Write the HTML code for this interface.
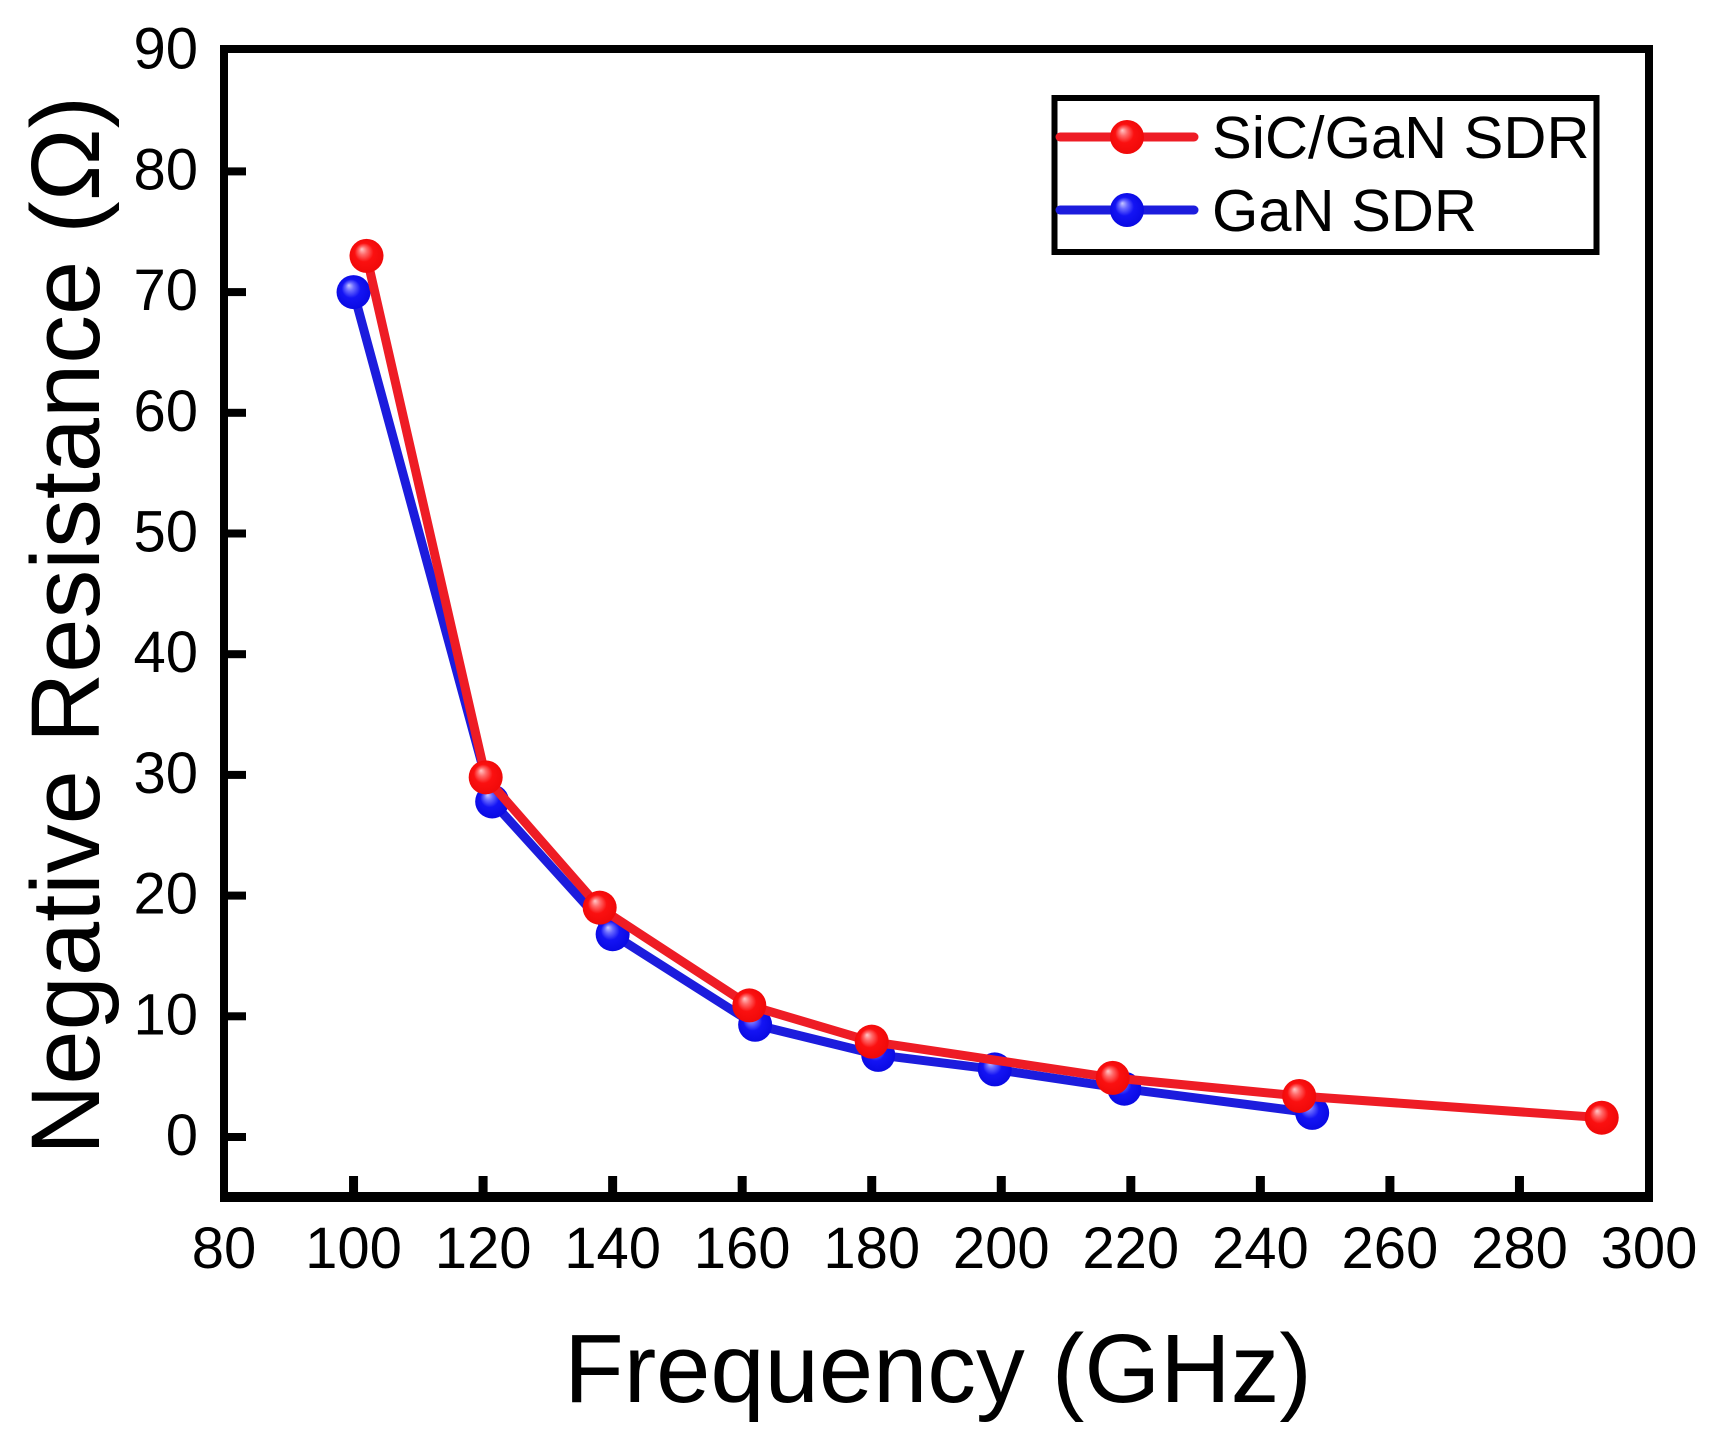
<!DOCTYPE html>
<html>
<head>
<meta charset="utf-8">
<title>Negative Resistance vs Frequency</title>
<style>
  html, body { margin: 0; padding: 0; background: #fff; }
  svg { display: block; }
  text { font-family: "Liberation Sans", Arial, sans-serif; fill: #000; }
</style>
</head>
<body>
<svg id="chart" xmlns="http://www.w3.org/2000/svg" width="1718" height="1449" viewBox="0 0 1718 1449">
  <defs>
    <radialGradient id="red-ball" cx="0.5" cy="0.5" r="0.55" fx="0.36" fy="0.3">
      <stop offset="0" stop-color="#ffc8c8"/>
      <stop offset="0.22" stop-color="#ff6a6a"/>
      <stop offset="0.5" stop-color="#fb1010"/>
      <stop offset="1" stop-color="#ee0808"/>
    </radialGradient>
    <radialGradient id="blue-ball" cx="0.5" cy="0.5" r="0.55" fx="0.36" fy="0.3">
      <stop offset="0" stop-color="#c8c8ff"/>
      <stop offset="0.22" stop-color="#6a6aff"/>
      <stop offset="0.5" stop-color="#1414f4"/>
      <stop offset="1" stop-color="#0808e0"/>
    </radialGradient>
  </defs>
  <rect x="0" y="0" width="1718" height="1449" fill="#fff"/>
  <g id="ticks"></g>
  <g id="series"></g>
  <path d="M224 49H1649V1197H224Z" fill="none" stroke="#000" stroke-width="8" stroke-linejoin="miter"/>
  <rect x="220" y="1192" width="1433" height="10" fill="#000"/>
  <text x="938" y="1402" font-size="97.5" text-anchor="middle">Frequency (GHz)</text>
  <text transform="translate(99 1155) rotate(-90)" font-size="97.5">Negative Resistance (Ω)</text>
  <g>
    <rect x="1054.5" y="98" width="542" height="154" fill="#fff" stroke="#000" stroke-width="6"/>
    <line x1="1060" y1="137" x2="1194" y2="137" stroke="#ee1c25" stroke-width="9" stroke-linecap="round"/>
    <circle cx="1127" cy="137" r="17" fill="url(#red-ball)"/>
    <text x="1212" y="158" font-size="59.6">SiC/GaN SDR</text>
    <line x1="1060" y1="210" x2="1194" y2="210" stroke="#1c1cdd" stroke-width="9" stroke-linecap="round"/>
    <circle cx="1127" cy="210" r="17" fill="url(#blue-ball)"/>
    <text x="1212" y="231" font-size="59.6">GaN SDR</text>
  </g>
</svg>
<script>
const xTicks = [80, 100, 120, 140, 160, 180, 200, 220, 240, 260, 280, 300];
const yTicks = [0, 10, 20, 30, 40, 50, 60, 70, 80, 90];
const sicGanFreq = [102, 120.4, 138, 161.1, 180, 217.2, 246, 292.7];
const sicGanRes = [73, 29.8, 19, 10.9, 7.9, 4.9, 3.4, 1.6];
const ganFreq = [100, 121.4, 140, 162, 181, 199, 219, 248];
const ganRes = [70, 27.8, 16.8, 9.3, 6.8, 5.6, 4, 2];

const NS = 'http://www.w3.org/2000/svg';
function xScale(v) { return 224 + (v - 80) * (1649 - 224) / 220; }
function yScale(v) { return 1137 - v * 12.07; }
function make(tag, parent) {
  const el = document.createElementNS(NS, tag);
  parent.appendChild(el);
  return el;
}

const tickGroup = document.getElementById('ticks');
xTicks.forEach(function (t) {
  const px = xScale(t);
  if (t > 80 && t < 300) {
    const mark = make('rect', tickGroup);
    
    
    mark.setAttribute('x', px - 4.5);
    mark.setAttribute('y', 1176);
    mark.setAttribute('width', 9);
    mark.setAttribute('height', 20);
    mark.setAttribute('fill', '#000');
  }
  const label = make('text', tickGroup);
  
  
  label.setAttribute('x', px);
  label.setAttribute('y', 1268);
  label.setAttribute('font-size', 58);
  label.setAttribute('text-anchor', 'middle');
  label.textContent = t;
});
yTicks.forEach(function (t) {
  const py = yScale(t);
  if (t < 90) {
    const mark = make('rect', tickGroup);
    
    
    mark.setAttribute('x', 224);
    mark.setAttribute('y', py - 4);
    mark.setAttribute('width', 22);
    mark.setAttribute('height', 8);
    mark.setAttribute('fill', '#000');
  }
  const label = make('text', tickGroup);
  
  
  label.setAttribute('x', 198);
  label.setAttribute('y', py + 18);
  label.setAttribute('font-size', 58);
  label.setAttribute('text-anchor', 'end');
  label.textContent = t;
});

const seriesGroup = document.getElementById('series');
function drawSeries(key, freq, res, lineColor, ball) {
  const pts = freq.map(function (f, i) { return xScale(f) + ',' + yScale(res[i]); }).join(' ');
  const line = make('polyline', seriesGroup);
  
  
  line.setAttribute('points', pts);
  line.setAttribute('fill', 'none');
  line.setAttribute('stroke', lineColor);
  line.setAttribute('stroke-width', 9);
  line.setAttribute('stroke-linejoin', 'round');
  freq.forEach(function (f, i) {
    const dot = make('circle', seriesGroup);
    
    
    dot.setAttribute('cx', xScale(f));
    dot.setAttribute('cy', yScale(res[i]));
    dot.setAttribute('r', 17);
    dot.setAttribute('fill', 'url(#' + ball + ')');
  });
}
drawSeries('gan-sdr', ganFreq, ganRes, '#1c1cdd', 'blue-ball');
drawSeries('sic-gan-sdr', sicGanFreq, sicGanRes, '#ee1c25', 'red-ball');
</script>
</body>
</html>
